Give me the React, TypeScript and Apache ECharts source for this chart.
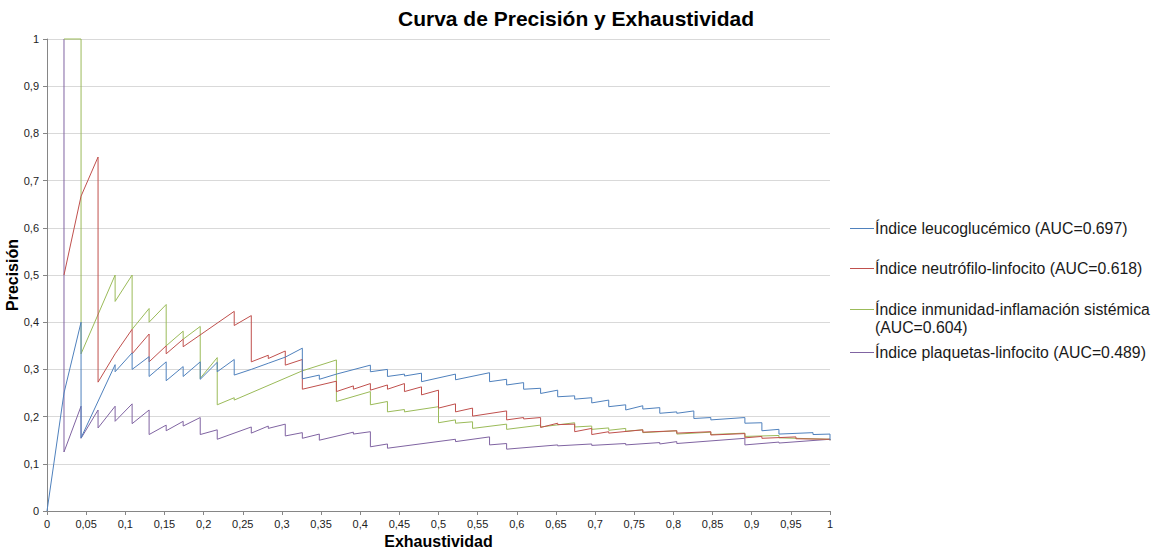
import { useEffect, useRef } from "react";
import * as echarts from "echarts";

const TITLE = "Curva de Precisión y Exhaustividad";
const X_NAME = "Exhaustividad";
const Y_NAME = "Precisión";

const seriesNames = [
  "Índice leucoglucémico (AUC=0.697)",
  "Índice neutrófilo-linfocito (AUC=0.618)",
  "Índice inmunidad-inflamación sistémica (AUC=0.604)",
  "Índice plaquetas-linfocito (AUC=0.489)",
];
const legendLabels = [
  "Índice leucoglucémico (AUC=0.697)",
  "Índice neutrófilo-linfocito (AUC=0.618)",
  "Índice inmunidad-inflamación sistémica\n(AUC=0.604)",
  "Índice plaquetas-linfocito (AUC=0.489)",
];
const seriesColors = ["#4F81BD", "#C0504D", "#9BBB59", "#8064A2"];

// [exhaustividad (recall), precisión] vertices
const leucoglucemico: [number, number][] = [
  [0, 0], [0.0217, 0.25], [0.0435, 0.4], [0.0435, 0.155], [0.087, 0.31], [0.087, 0.295],
  [0.1087, 0.335], [0.1087, 0.3], [0.1304, 0.327], [0.1304, 0.285], [0.1522, 0.316], [0.1522, 0.276],
  [0.1739, 0.306], [0.1739, 0.285], [0.1957, 0.316], [0.1957, 0.279], [0.2174, 0.315], [0.2174, 0.295],
  [0.2391, 0.321], [0.2391, 0.288], [0.2609, 0.3], [0.2826, 0.313], [0.3043, 0.326], [0.3261, 0.345],
  [0.3261, 0.28], [0.3478, 0.288], [0.3478, 0.279], [0.3696, 0.29], [0.413, 0.309], [0.413, 0.295],
  [0.4348, 0.3], [0.4348, 0.285], [0.4565, 0.29], [0.4565, 0.286], [0.4783, 0.292], [0.4783, 0.274],
  [0.5217, 0.29], [0.5217, 0.278], [0.5652, 0.293], [0.5652, 0.274], [0.587, 0.279], [0.587, 0.267],
  [0.6087, 0.272], [0.6087, 0.258], [0.6304, 0.26], [0.6304, 0.249], [0.6522, 0.256], [0.6522, 0.242],
  [0.6739, 0.244], [0.6739, 0.237], [0.6957, 0.24], [0.6957, 0.229], [0.7174, 0.235], [0.7174, 0.221],
  [0.7391, 0.225], [0.7391, 0.214], [0.7609, 0.223], [0.7609, 0.216], [0.7826, 0.219], [0.7826, 0.207],
  [0.8043, 0.21], [0.8043, 0.207], [0.8261, 0.212], [0.8261, 0.196], [0.8478, 0.198], [0.8478, 0.193],
  [0.8913, 0.198], [0.8913, 0.186], [0.913, 0.187], [0.913, 0.17], [0.9348, 0.173], [0.9348, 0.163],
  [0.9783, 0.166], [0.9783, 0.162], [1, 0.163], [1, 0.15],
];

const neutrofiloLinfocito: [number, number][] = [
  [0.0217, 0.5], [0.0435, 0.667], [0.0652, 0.75], [0.0652, 0.273], [0.087, 0.333], [0.1087, 0.385],
  [0.1087, 0.333], [0.1304, 0.375], [0.1304, 0.316], [0.1522, 0.35], [0.1522, 0.333], [0.1739, 0.364],
  [0.1739, 0.348], [0.2391, 0.423], [0.2391, 0.393], [0.2609, 0.414], [0.2609, 0.316], [0.2826, 0.33],
  [0.2826, 0.323], [0.3043, 0.339], [0.3043, 0.309], [0.3261, 0.321], [0.3261, 0.258], [0.3696, 0.275],
  [0.3696, 0.253], [0.3913, 0.265], [0.3913, 0.258], [0.413, 0.27], [0.413, 0.256], [0.4348, 0.267],
  [0.4348, 0.258], [0.4565, 0.27], [0.4565, 0.253], [0.4783, 0.263], [0.4783, 0.246], [0.5, 0.256],
  [0.5, 0.218], [0.5217, 0.227], [0.5217, 0.21], [0.5435, 0.218], [0.5435, 0.201], [0.587, 0.212],
  [0.587, 0.193], [0.6087, 0.198], [0.6087, 0.195], [0.6304, 0.198], [0.6304, 0.177], [0.6522, 0.186],
  [0.6522, 0.183], [0.6739, 0.184], [0.6739, 0.168], [0.6957, 0.175], [0.6957, 0.162], [0.7174, 0.168],
  [0.7174, 0.165], [0.7609, 0.172], [0.7609, 0.167], [0.8043, 0.17], [0.8043, 0.165], [0.8478, 0.168],
  [0.8478, 0.161], [0.8913, 0.164], [0.8913, 0.155], [0.913, 0.158], [0.913, 0.154], [0.9565, 0.157],
  [0.9565, 0.153], [1, 0.152], [1, 0.15],
];

const inmunidadInflamacion: [number, number][] = [
  [0.0217, 1], [0.0435, 1], [0.0435, 0.333], [0.087, 0.5], [0.087, 0.444], [0.1087, 0.5],
  [0.1087, 0.385], [0.1304, 0.429], [0.1304, 0.4], [0.1522, 0.4375], [0.1522, 0.35], [0.1739, 0.381],
  [0.1739, 0.364], [0.1957, 0.391], [0.1957, 0.281], [0.2174, 0.325], [0.2174, 0.225], [0.2391, 0.24],
  [0.2391, 0.235], [0.3261, 0.297], [0.3696, 0.32], [0.3696, 0.232], [0.413, 0.253], [0.413, 0.225],
  [0.4348, 0.232], [0.4348, 0.21], [0.4565, 0.215], [0.4565, 0.21], [0.5, 0.221], [0.5, 0.187],
  [0.5217, 0.193], [0.5217, 0.186], [0.5435, 0.189], [0.5435, 0.175], [0.587, 0.184], [0.587, 0.173],
  [0.6304, 0.182], [0.6304, 0.178], [0.6739, 0.187], [0.6739, 0.178], [0.6957, 0.18], [0.6957, 0.173],
  [0.7174, 0.176], [0.7174, 0.171], [0.7391, 0.175], [0.7391, 0.169], [0.7609, 0.172], [0.7609, 0.166],
  [0.8043, 0.17], [0.8043, 0.163], [0.8478, 0.167], [0.8478, 0.162], [0.8913, 0.165], [0.8913, 0.158],
  [0.9348, 0.16], [0.9348, 0.155], [1, 0.152], [1, 0.15],
];

const plaquetasLinfocito: [number, number][] = [
  [0.0217, 1], [0.0217, 0.125], [0.0435, 0.222], [0.0435, 0.154], [0.0652, 0.214], [0.0652, 0.176],
  [0.087, 0.222], [0.087, 0.19], [0.1087, 0.227], [0.1087, 0.185], [0.1304, 0.214], [0.1304, 0.162],
  [0.1522, 0.182], [0.1522, 0.17], [0.1739, 0.19], [0.1739, 0.18], [0.1957, 0.198], [0.1957, 0.162],
  [0.2174, 0.172], [0.2174, 0.152], [0.2609, 0.178], [0.2609, 0.165], [0.2826, 0.18], [0.2826, 0.175],
  [0.3043, 0.184], [0.3043, 0.159], [0.3261, 0.166], [0.3261, 0.154], [0.3478, 0.163], [0.3478, 0.15],
  [0.3913, 0.167], [0.3913, 0.163], [0.413, 0.168], [0.413, 0.136], [0.4348, 0.142], [0.4348, 0.133],
  [0.5217, 0.152], [0.5217, 0.147], [0.5652, 0.157], [0.5652, 0.14], [0.587, 0.143], [0.587, 0.131],
  [0.6522, 0.14], [0.6522, 0.138], [0.6957, 0.142], [0.6957, 0.139], [0.7391, 0.143], [0.7391, 0.14],
  [0.7826, 0.145], [0.7826, 0.142], [0.8043, 0.147], [0.8043, 0.143], [0.8913, 0.154], [0.8913, 0.14],
  [0.9348, 0.146], [0.9348, 0.144], [1, 0.152], [1, 0.15],
];

const seriesData = [leucoglucemico, neutrofiloLinfocito, inmunidadInflamacion, plaquetasLinfocito];

const FONT = "'Liberation Sans', Arial, Helvetica, sans-serif";
const fmt = (v: number) => String(+v.toFixed(2)).replace(".", ",");

export default function App() {
  const ref = useRef<HTMLDivElement>(null);
  useEffect(() => {
    const chart = echarts.init(ref.current!, null, { renderer: "svg" });
    const legendY = [228, 268, 309, 352];
    const graphic: any[] = [
      {
        type: "text",
        x: 12,
        y: 275,
        rotation: Math.PI / 2,
        style: {
          text: Y_NAME,
          fontSize: 16,
          fontWeight: "bold",
          fontFamily: FONT,
          fill: "#000",
          align: "center",
          verticalAlign: "middle",
        },
      },
    ];
    legendLabels.forEach((label, i) => {
      graphic.push({
        type: "line",
        shape: { x1: 850, y1: legendY[i] + 0.5, x2: 874, y2: legendY[i] + 0.5 },
        style: { stroke: seriesColors[i], lineWidth: 1 },
      });
      graphic.push({
        type: "text",
        x: 875,
        y: legendY[i] - 9,
        style: {
          text: label,
          fontSize: 15.8,
          lineHeight: 18,
          fontFamily: FONT,
          fill: "#1a1a1a",
          verticalAlign: "top",
          align: "left",
        },
      });
    });
    chart.setOption({
      animation: false,
      backgroundColor: "#ffffff",
      title: {
        text: TITLE,
        left: "center",
        top: 3,
        textStyle: { fontSize: 21, fontWeight: "bold", fontFamily: FONT, color: "#000" },
      },
      grid: { left: 47, top: 39, width: 783, height: 472, containLabel: false, outerBoundsMode: "none" },
      xAxis: {
        type: "value",
        min: 0,
        max: 1,
        interval: 0.05,
        name: X_NAME,
        nameLocation: "middle",
        nameGap: 22,
        nameTextStyle: { fontSize: 16, fontWeight: "bold", fontFamily: FONT, color: "#000" },
        axisLine: { show: true, lineStyle: { color: "#868686", width: 1 } },
        axisTick: { show: true, length: 4, lineStyle: { color: "#868686" } },
        axisLabel: { formatter: fmt, fontSize: 11, fontFamily: FONT, color: "#222", margin: 7 },
        splitLine: { show: false },
      },
      yAxis: {
        type: "value",
        min: 0,
        max: 1,
        interval: 0.1,
        axisLine: { show: true, lineStyle: { color: "#868686", width: 1 } },
        axisTick: { show: true, length: 4, lineStyle: { color: "#868686" } },
        axisLabel: { formatter: fmt, fontSize: 11, fontFamily: FONT, color: "#222", margin: 8 },
        splitLine: { show: true, lineStyle: { color: "#d9d9d9", width: 1 } },
      },
      graphic,
      series: seriesData.map((data, i) => ({
        name: seriesNames[i],
        type: "line",
        data,
        showSymbol: false,
        symbol: "none",
        clip: false,
        lineStyle: { color: seriesColors[i], width: 1 },
        itemStyle: { color: seriesColors[i] },
        z: 10 - i,
      })),
    });
    return () => chart.dispose();
  }, []);
  return (
    <div
      ref={ref}
      style={{ position: "fixed", left: 0, top: 0, width: 1152, height: 552, background: "#fff" }}
    />
  );
}
